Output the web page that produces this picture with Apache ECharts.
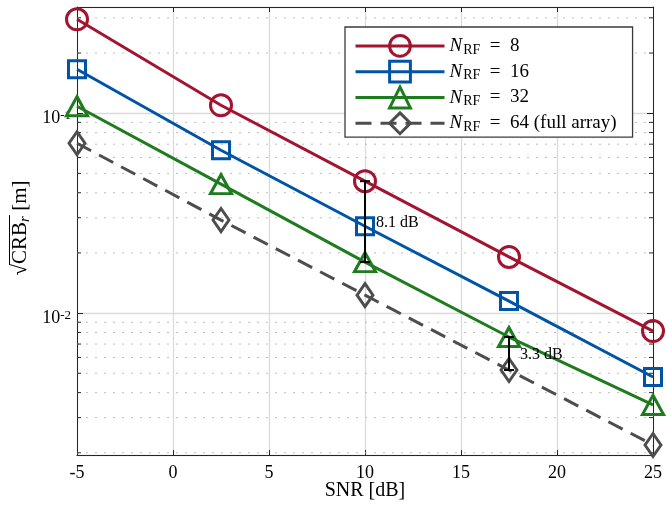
<!DOCTYPE html>
<html><head><meta charset="utf-8">
<script src="https://cdn.jsdelivr.net/npm/echarts@6/dist/echarts.min.js"></script>
<style>html,body{margin:0;padding:0;background:#fff}#c{width:667px;height:508px}</style>
</head><body><div id="c"></div><script>
// ---------- data ----------
const snr = [-5, 2.5, 10, 17.5, 25];
const crbN8  = [0.295, 0.1096, 0.0457, 0.0191, 0.00813];
const crbN16 = [0.166, 0.0653, 0.0272, 0.01148, 0.00479];
const crbN32 = [0.1084, 0.0442, 0.0180, 0.00759, 0.00347];
const crbN64 = [0.0708, 0.0292, 0.0123, 0.00519, 0.00219];
const seriesNames = ['NRF8', 'NRF16', 'NRF32', 'NRF64'];
const legendLabels = ['{i|N}{s|RF}{t|  =  8}', '{i|N}{s|RF}{t|  =  16}', '{i|N}{s|RF}{t|  =  32}', '{i|N}{s|RF}{t|  =  64 (full array)}'];
const xTicks = [-5, 0, 5, 10, 15, 20, 25];
const yRange = [0.00195, 0.34];
const minorTicks = [0.002,0.003,0.004,0.005,0.006,0.007,0.008,0.009,0.02,0.03,0.04,0.05,0.06,0.07,0.08,0.09,0.2,0.3];
const gapLabels = ['8.1 dB', '3.3 dB'];
const gaps = [[snr[2], crbN8[2], crbN32[2]], [snr[3], crbN32[3], crbN64[3]]];

const FONT = 'Liberation Serif';
const AX = '#262626';
const chart = echarts.init(document.getElementById('c'), null, {renderer: 'canvas'});

function lineSeries(name, data, color, symbol, size, dashed) {
  return {
    name: name, type: 'line', data: snr.map((x, i) => [x, data[i]]),
    symbol: symbol, symbolSize: size, showAllSymbol: true, clip: false, z: 3,
    lineStyle: {color: color, width: 3, type: dashed ? [16, 9] : 'solid'},
    itemStyle: {color: 'rgba(255,255,255,0)', borderColor: color, borderWidth: 3},
    emphasis: {disabled: true}
  };
}

// y-axis title measurement
const ctx = document.createElement('canvas').getContext('2d');
const TF = 21;
ctx.font = TF + 'px ' + FONT; const wSqrt = ctx.measureText('\u221A').width; const wCRB = ctx.measureText('CRB').width; const wRest = ctx.measureText(' [m]').width;
ctx.font = 'italic 15px ' + FONT; const wr = ctx.measureText('r').width;
const totalW = wSqrt + wCRB + wr + wRest;

const option = {
  animation: false,
  backgroundColor: '#fff',
  grid: {left: 77, right: 14, top: 7, bottom: 53, containLabel: false, outerBoundsMode: 'none'},
  legend: {
    data: seriesNames, orient: 'vertical', left: 345, top: 27,
    padding: [7, 16, 2, 9], itemWidth: 89, itemHeight: 26, itemGap: 2,
    backgroundColor: '#fff', borderColor: '#3a3a3a', borderWidth: 1.3,
    itemStyle: {borderWidth: 3}, lineStyle: {width: 3},
    formatter: name => legendLabels[seriesNames.indexOf(name)],
    textStyle: {fontFamily: FONT, fontSize: 19, color: '#000',
      rich: {
        i: {fontFamily: FONT, fontStyle: 'italic', fontSize: 19, color: '#000', lineHeight: 22, verticalAlign: 'middle'},
        s: {fontFamily: FONT, fontSize: 14, color: '#000', verticalAlign: 'bottom', lineHeight: 22, padding: [0, 0, 0, 1]},
        t: {fontFamily: FONT, fontSize: 19, color: '#000', lineHeight: 22, verticalAlign: 'middle'}
      }}
  },
  xAxis: [{
    type: 'value', min: -5, max: 25, interval: 5, position: 'bottom',
    name: 'SNR [dB]', nameLocation: 'middle', nameGap: 26, nameMoveOverlap: false,
    nameTextStyle: {fontFamily: FONT, fontSize: 20, color: '#000'},
    axisLine: {show: true, lineStyle: {color: AX, width: 1}},
    axisTick: {show: true, inside: true, length: 5, lineStyle: {color: AX}},
    axisLabel: {fontFamily: FONT, fontSize: 18, color: '#000', margin: 9},
    splitLine: {show: true, lineStyle: {color: '#dadada', width: 1.3}}
  }, {
    type: 'value', min: -5, max: 25, interval: 5, position: 'top',
    axisLine: {show: true, onZero: false, lineStyle: {color: AX, width: 1}},
    axisTick: {show: true, inside: true, length: 5, lineStyle: {color: AX}},
    axisLabel: {show: false}, splitLine: {show: false}
  }],
  yAxis: [{
    type: 'log', logBase: 10, min: yRange[0], max: yRange[1], position: 'left',
    axisLine: {show: true, onZero: false, lineStyle: {color: AX, width: 1}},
    axisTick: {show: true, inside: true, length: 6, lineStyle: {color: AX}},
    axisLabel: {
      margin: 6, color: '#000', fontFamily: FONT, padding: [10, 0, 0, 0],
      formatter: v => { const l = Math.log10(v); return Math.abs(l - Math.round(l)) < 1e-6 ? '{b|10}{s|' + Math.round(l) + '}' : ''; },
      rich: {
        b: {fontFamily: FONT, fontSize: 18, color: '#000', verticalAlign: 'middle', lineHeight: 18},
        s: {fontFamily: FONT, fontSize: 13, color: '#000', verticalAlign: 'top', lineHeight: 18}
      }
    },
    splitLine: {show: true, lineStyle: {color: '#dadada', width: 1.3}}
  }, {
    type: 'log', logBase: 10, min: yRange[0], max: yRange[1], position: 'right',
    axisLine: {show: true, onZero: false, lineStyle: {color: AX, width: 1}},
    axisTick: {show: true, inside: true, length: 6, lineStyle: {color: AX}},
    axisLabel: {show: false}, splitLine: {show: false}
  }],
  graphic: [{
    type: 'group', x: 20, y: 228, rotation: Math.PI / 2,
    children: [
      {type: 'text', x: -totalW / 2, y: 0, style: {text: '\u221A', font: TF + 'px ' + FONT, fill: '#000', verticalAlign: 'middle'}},
      {type: 'text', x: -totalW / 2 + wSqrt, y: 0, style: {text: 'CRB', font: TF + 'px ' + FONT, fill: '#000', verticalAlign: 'middle'}},
      {type: 'text', x: -totalW / 2 + wSqrt + wCRB, y: 5, style: {text: 'r', font: 'italic 15px ' + FONT, fill: '#000', verticalAlign: 'middle'}},
      {type: 'text', x: -totalW / 2 + wSqrt + wCRB + wr, y: 0, style: {text: ' [m]', font: TF + 'px ' + FONT, fill: '#000', verticalAlign: 'middle'}},
      {type: 'line', shape: {x1: -totalW / 2 + wSqrt - 1, y1: -10.5, x2: -totalW / 2 + wSqrt + wCRB + wr + 1, y2: -10.5}, style: {stroke: '#000', lineWidth: 1}}
    ]
  }],
  series: [
    {
      type: 'custom', name: 'minor', silent: true, z: 1, xAxisIndex: 0, yAxisIndex: 0,
      data: minorTicks.map(v => [xTicks[0], v]), encode: {x: 0, y: 1},
      renderItem: (params, api) => {
        const cs = params.coordSys; const y = api.coord([api.value(0), api.value(1)])[1];
        return {type: 'group', children: [
          {type: 'line', shape: {x1: cs.x, y1: y, x2: cs.x + cs.width, y2: y}, style: {stroke: '#bdbdbd', lineWidth: 1, lineDash: [2, 7]}},
          {type: 'line', shape: {x1: cs.x, y1: y, x2: cs.x + 4, y2: y}, style: {stroke: AX, lineWidth: 1}},
          {type: 'line', shape: {x1: cs.x + cs.width - 4, y1: y, x2: cs.x + cs.width, y2: y}, style: {stroke: AX, lineWidth: 1}}
        ]};
      }
    },
    lineSeries(seriesNames[0], crbN8, '#A2142F', 'circle', 21, false),
    lineSeries(seriesNames[1], crbN16, '#0054A6', 'rect', 17, false),
    lineSeries(seriesNames[2], crbN32, '#1E7B1E', 'triangle', [21, 19], false),
    lineSeries(seriesNames[3], crbN64, '#4D4D4D', 'diamond', [16, 23], true),
    {
      type: 'custom', name: 'gaps', silent: true, z: 6, xAxisIndex: 0, yAxisIndex: 0,
      data: gaps, encode: {x: 0, y: [1, 2]},
      renderItem: (params, api) => {
        const x = api.value(0);
        const p1 = api.coord([x, api.value(1)]); const p2 = api.coord([x, api.value(2)]);
        const c = 5;
        return {type: 'group', children: [
          {type: 'line', shape: {x1: p1[0], y1: p1[1], x2: p2[0], y2: p2[1]}, style: {stroke: '#000', lineWidth: 2}},
          {type: 'line', shape: {x1: p1[0] - c, y1: p1[1], x2: p1[0] + c, y2: p1[1]}, style: {stroke: '#000', lineWidth: 2}},
          {type: 'line', shape: {x1: p2[0] - c, y1: p2[1], x2: p2[0] + c, y2: p2[1]}, style: {stroke: '#000', lineWidth: 2}},
          {type: 'text', x: p1[0] + 11, y: (p1[1] + p2[1]) / 2 + 1, style: {text: gapLabels[params.dataIndex], font: '16px ' + FONT, fill: '#000', align: 'left', verticalAlign: 'middle'}}
        ]};
      }
    }
  ]
};
chart.setOption(option);
</script></body></html>
